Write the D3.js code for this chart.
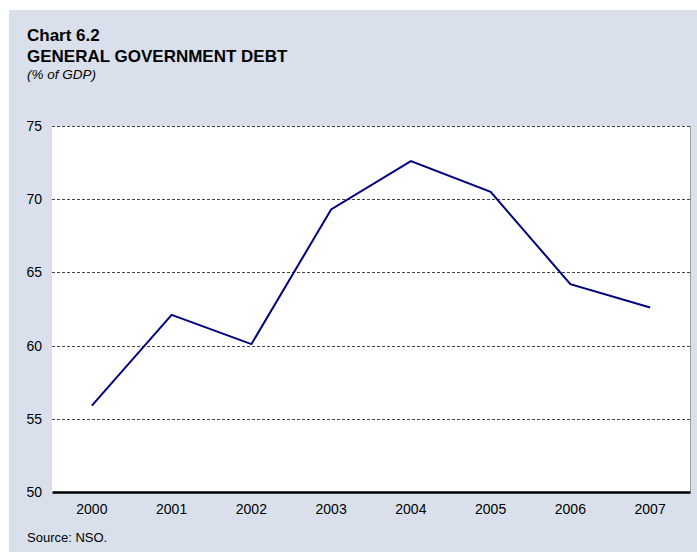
<!DOCTYPE html>
<html><head><meta charset="utf-8">
<script src="https://cdn.jsdelivr.net/npm/d3@7"></script>
<style>body{margin:0;background:#fff;} svg{display:block;font-family:Arial,"Liberation Sans",sans-serif;}</style>
</head><body>
<svg id="c" width="697" height="553"></svg>
<script>
const years = ["2000","2001","2002","2003","2004","2005","2006","2007"];
const debt = [55.9, 62.1, 60.1, 69.3, 72.6, 70.5, 64.2, 62.6];
const yTicks = [50, 55, 60, 65, 70, 75];

const svg = d3.select("#c");
svg.append("rect").attr("x",9).attr("y",10).attr("width",688).attr("height",542).attr("fill","#d9e0ec");

const m = {left:52, right:690, top:126, bottom:492};
const x = d3.scaleBand().domain(years).range([m.left, m.right]);
const y = d3.scaleLinear().domain([50,75]).range([m.bottom, m.top]);

svg.append("rect").attr("x",m.left).attr("y",m.top).attr("width",m.right-m.left).attr("height",m.bottom-m.top).attr("fill","#fff");
svg.append("line").attr("x1",m.right+0.5).attr("x2",m.right+0.5).attr("y1",m.top).attr("y2",m.bottom).attr("stroke","#a0a0a0").attr("stroke-width",1);

// gridlines
svg.append("g").selectAll("line").data(yTicks.filter(d=>d>50)).join("line")
  .attr("x1",m.left).attr("x2",m.right)
  .attr("y1",d=>Math.round(y(d))+0.5).attr("y2",d=>Math.round(y(d))+0.5)
  .attr("stroke","#444").attr("stroke-width",1).attr("stroke-dasharray","3,2");

// y axis labels
const yAxis = d3.axisLeft(y).tickValues(yTicks).tickSize(0).tickPadding(10);
const gy = svg.append("g").attr("transform",`translate(${m.left},0)`).call(yAxis);
gy.select(".domain").remove();
gy.selectAll("text").attr("font-size","14px").attr("fill","#000").attr("font-family","Arial, Liberation Sans, sans-serif");

// x axis
const xAxis = d3.axisBottom(x).tickSize(0).tickPadding(12);
const gx = svg.append("g").attr("transform",`translate(0,${m.bottom})`).call(xAxis);
gx.select(".domain").attr("stroke","#000").attr("stroke-width",2.5);
gx.selectAll("text").attr("font-size","14px").attr("fill","#000").attr("font-family","Arial, Liberation Sans, sans-serif");

// line
const line = d3.line().x((d,i)=>x(years[i])+x.bandwidth()/2).y(d=>y(d));
svg.append("path").datum(debt).attr("d",line).attr("fill","none").attr("stroke","#000080").attr("stroke-width",2).attr("stroke-linejoin","miter");

// titles
svg.append("text").attr("x",27).attr("y",41).attr("font-size","17px").attr("font-weight","bold").text("Chart 6.2");
svg.append("text").attr("x",27).attr("y",62).attr("font-size","17px").attr("font-weight","bold").text("GENERAL GOVERNMENT DEBT");
svg.append("text").attr("x",27).attr("y",79).attr("font-size","13.5px").attr("font-style","italic").text("(% of GDP)");
svg.append("text").attr("x",27).attr("y",542).attr("font-size","13px").text("Source: NSO.");
</script>
</body></html>
